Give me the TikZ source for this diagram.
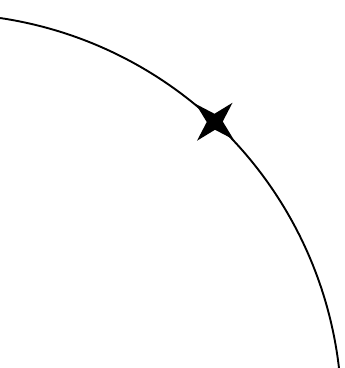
\documentclass[tikz,border=0pt]{standalone}
\usetikzlibrary{calc}
\begin{document}
\begin{tikzpicture}[x=1pt,y=1pt,
  arcline/.style={line width=1.9pt,black},
  starshape/.style={fill=black,draw=none}]
\useasboundingbox (0,0) rectangle (345,368);
\coordinate (C) at (-59.1,-46.4);
\draw[arcline] (C) ++(81.5:400.8) arc[start angle=81.5,end angle=6.6,radius=400.8];
\coordinate (S) at ($(C)+(46.9:400.8)$);
\fill[starshape,shift={(S)},rotate=46.9]
  (0:26) -- (45:8) -- (90:26) -- (135:8) -- (180:26) -- (225:8) -- (270:26) -- (315:8) -- cycle;
\end{tikzpicture}
\end{document}
